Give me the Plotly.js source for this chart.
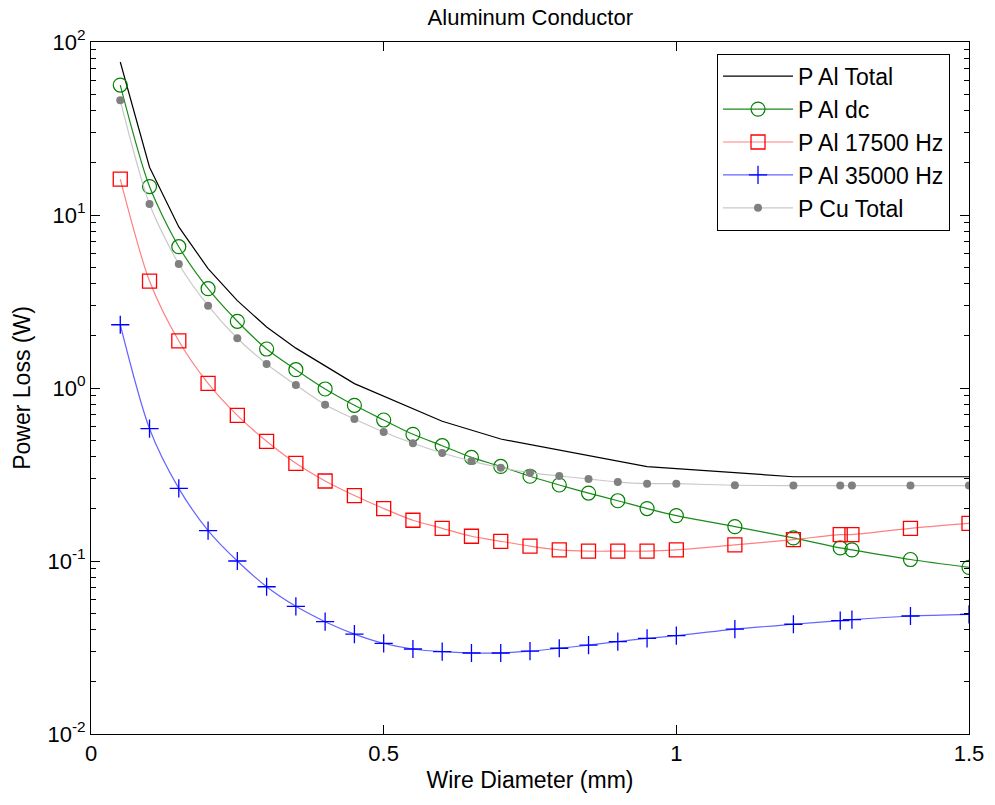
<!DOCTYPE html>
<html>
<head>
<meta charset="utf-8">
<script src="https://cdn.plot.ly/plotly-3.0.1.min.js"></script>
<style>html,body{margin:0;padding:0;background:#fff;}#chart{width:995px;height:805px;}</style>
</head>
<body>
<div id="chart"></div>
<script>
// Wire diameter (mm) for the marker series
const diameter = [0.05,0.1,0.15,0.2,0.25,0.3,0.35,0.4,0.45,0.5,0.55,0.6,0.65,0.7,0.75,0.8,0.85,0.9,0.95,1.0,1.1,1.2,1.28,1.3,1.4,1.5];
// P Al Total (W), sampled at its own diameters
const diameterTotal = [0.05,0.1,0.15,0.2,0.25,0.3,0.35,0.45,0.6,0.7,0.95,1.2,1.5];
const pAlTotal = [76.6,18.9,8.53,4.90,3.20,2.25,1.70,1.06,0.642,0.507,0.351,0.307,0.307];
// P Al dc (W)
const pAlDc = [56.4,14.6,6.56,3.75,2.43,1.68,1.276,0.987,0.794,0.653,0.540,0.464,0.397,0.352,0.309,0.275,0.247,0.223,0.201,0.183,0.158,0.136,0.119,0.116,0.102,0.0919];
// P Al 17500 Hz (W)
const pAl17500 = [16.1,4.15,1.87,1.064,0.695,0.492,0.367,0.290,0.239,0.201,0.172,0.1545,0.139,0.130,0.122,0.116,0.114,0.114,0.114,0.116,0.124,0.133,0.142,0.142,0.1545,0.165];
// P Al 35000 Hz (W)
const pAl35000 = [2.32,0.582,0.263,0.150,0.100,0.0710,0.0547,0.0446,0.0378,0.0334,0.0310,0.0299,0.0294,0.0294,0.0301,0.0313,0.0326,0.0342,0.0357,0.0370,0.0404,0.0431,0.0452,0.0458,0.0481,0.0492];
// P Cu Total (W)
const pCuTotal = [46.0,11.58,5.21,2.99,1.94,1.377,1.04,0.801,0.662,0.557,0.479,0.421,0.378,0.346,0.324,0.310,0.298,0.286,0.280,0.280,0.274,0.273,0.273,0.273,0.273,0.273];

const seriesNames = ['P Al Total','P Al dc','P Al 17500 Hz','P Al 35000 Hz','P Cu Total'];
const yTickVals = [0.01,0.1,1,10,100];
const yTickText = ['10<sup>-2</sup>','10<sup>-1</sup>','10<sup>0</sup>','10<sup>1</sup>','10<sup>2</sup>'];
const xTickVals = [0,0.5,1,1.5];
const xTickText = ['0','0.5','1','1.5'];

const minorVals = [];
for (let e = -2; e < 2; e++) for (let m = 2; m <= 9; m++) minorVals.push(m * Math.pow(10, e));

const FONT = 'Arial, "Liberation Sans", Helvetica, sans-serif';

const traces = [
  {x: diameterTotal, y: pAlTotal, name: seriesNames[0], type: 'scatter', mode: 'lines',
   line: {color: '#000000', width: 1.2}},
  {x: diameter, y: pAlDc, name: seriesNames[1], type: 'scatter', mode: 'lines+markers',
   line: {color: '#1a8c1a', width: 1.2, shape: 'spline', smoothing: 0.8},
   marker: {symbol: 'circle-open', size: 14, color: '#008000', line: {width: 1.2, color: '#008000'}}},
  {x: diameter, y: pAl17500, name: seriesNames[2], type: 'scatter', mode: 'lines+markers',
   line: {color: '#ff8080', width: 1.2, shape: 'spline', smoothing: 0.8},
   marker: {symbol: 'square-open', size: 14, color: '#ff0000', line: {width: 1.3, color: '#ff0000'}}},
  {x: diameter, y: pAl35000, name: seriesNames[3], type: 'scatter', mode: 'lines+markers',
   line: {color: '#6464ff', width: 1.2, shape: 'spline', smoothing: 0.8},
   marker: {symbol: 'cross-thin-open', size: 13, color: '#0000ff', line: {width: 1.3, color: '#0000ff'}}},
  {x: diameter, y: pCuTotal, name: seriesNames[4], type: 'scatter', mode: 'lines+markers',
   line: {color: '#c8c8c8', width: 1.2, shape: 'spline', smoothing: 0.8},
   marker: {symbol: 'circle', size: 8, color: '#808080', line: {width: 0}}}
];

const layout = {
  width: 995, height: 805,
  margin: {l: 91, r: 26, t: 42, b: 71, pad: 0},
  paper_bgcolor: '#ffffff', plot_bgcolor: '#ffffff',
  font: {family: FONT, color: '#000000', size: 22},
  title: {text: 'Aluminum Conductor', font: {family: FONT, size: 22, color: '#000'},
          x: 0.533, xanchor: 'center', y: 0.979, yanchor: 'middle'},
  showlegend: true,
  legend: {x: 0.713, y: 0.983, xanchor: 'left', yanchor: 'top',
           bgcolor: '#ffffff', bordercolor: '#000000', borderwidth: 1,
           font: {family: FONT, size: 23, color: '#000'}, itemwidth: 70, traceorder: 'normal'},
  xaxis: {
    type: 'linear', range: [0, 1.5], tickmode: 'array', tickvals: xTickVals, ticktext: xTickText,
    ticks: 'inside', ticklen: 9, tickwidth: 1, tickcolor: '#000',
    showline: true, linecolor: '#000', linewidth: 1, mirror: 'allticks',
    showgrid: false, zeroline: false,
    tickfont: {family: FONT, size: 22, color: '#000'},
    title: {text: 'Wire Diameter (mm)', font: {family: FONT, size: 23, color: '#000'}, standoff: 6}
  },
  yaxis: {
    type: 'log', range: [-2, 2], tickmode: 'array', tickvals: yTickVals, ticktext: yTickText,
    ticks: 'inside', ticklen: 9, tickwidth: 1, tickcolor: '#000',
    minor: {tickmode: 'array', tickvals: minorVals, ticks: 'inside', ticklen: 5, tickwidth: 1, tickcolor: '#000', showgrid: false},
    showline: true, linecolor: '#000', linewidth: 1, mirror: 'allticks',
    showgrid: false, zeroline: false,
    tickfont: {family: FONT, size: 22, color: '#000'},
    title: {text: 'Power Loss (W)', font: {family: FONT, size: 23, color: '#000'}, standoff: 10}
  }
};

Plotly.newPlot('chart', traces, layout, {staticPlot: true, displayModeBar: false});
</script>
</body>
</html>
